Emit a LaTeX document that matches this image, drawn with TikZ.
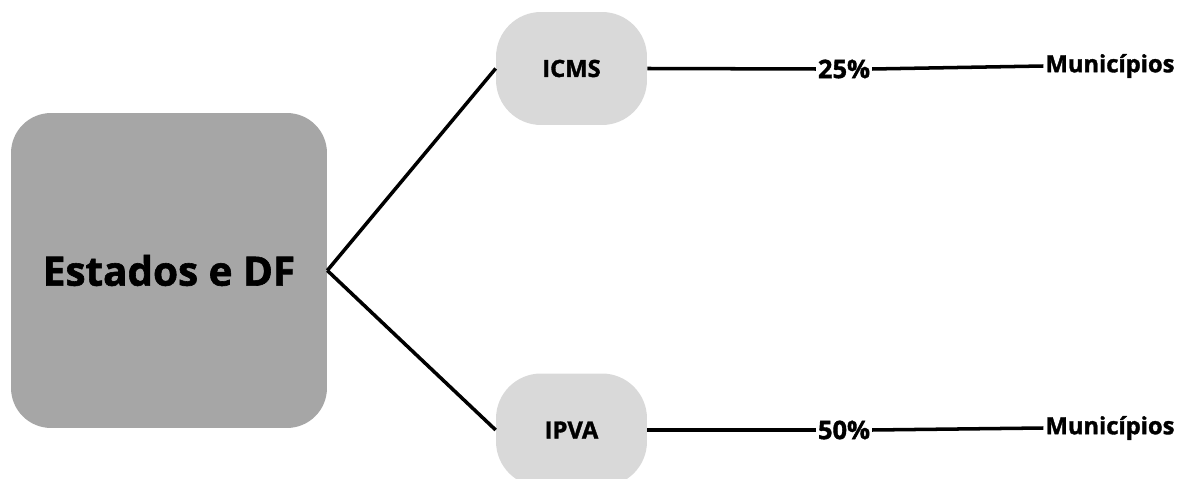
\documentclass[tikz,border=0pt]{standalone}
\usepackage{fontspec}
\setmainfont{Open Sans}[BoldFeatures={FakeBold=1.5}]
\usetikzlibrary{positioning,calc}
\definecolor{darkbox}{RGB}{166,166,166}
\definecolor{lightbox}{RGB}{217,217,217}

\tikzset{
  taxbox/.style={
    rectangle, rounded corners=0.9cm,
    fill=lightbox,
    minimum width=3.02cm,
    minimum height=2.26cm,
    font=\fontsize{13.5}{16}\selectfont\bfseries
  },
  pctlabel/.style={
    inner sep=1pt,
    font=\fontsize{14.5}{17}\selectfont\bfseries
  },
  munlabel/.style={
    inner sep=1pt,
    font=\fontsize{13.5}{16}\selectfont\bfseries
  },
  link/.style={line width=2pt}
}

\begin{document}
\begin{tikzpicture}[x=0.02cm, y=-0.02cm]

\useasboundingbox (0,0) rectangle (1179,479);

% ----------------------
% Main box
% ----------------------
\node[
  rectangle, rounded corners=0.8cm,
  fill=darkbox,
  minimum width=6.32cm,
  minimum height=6.3cm,
  font=\fontsize{23}{27}\selectfont\bfseries
] (estados) at (169,270.5)
{Estados e DF};

% ----------------------
% Tax boxes
% ----------------------
\node[taxbox] (icms) at (571.5,68.5) {ICMS};
\node[taxbox] (ipva) at (571.5,430) {IPVA};

% ----------------------
% Shares and receivers
% ----------------------
\node[pctlabel] (pcticms) at (844,69) {25\%};
\node[munlabel] (municms) at (1110,66) {Municípios};

\node[pctlabel] (pctipva) at (844,430) {50\%};
\node[munlabel] (munipva) at (1110,428) {Municípios};

% ----------------------
% Connectors
% ----------------------
\draw[link] (estados.east) -- (icms.west);
\draw[link] (estados.east) -- (ipva.west);

\draw[link] (icms.east) -- (pcticms.west);
\draw[link] (pcticms.east) -- (municms.west);

\draw[link] (ipva.east) -- (pctipva.west);
\draw[link] (pctipva.east) -- (munipva.west);

\end{tikzpicture}
\end{document}
